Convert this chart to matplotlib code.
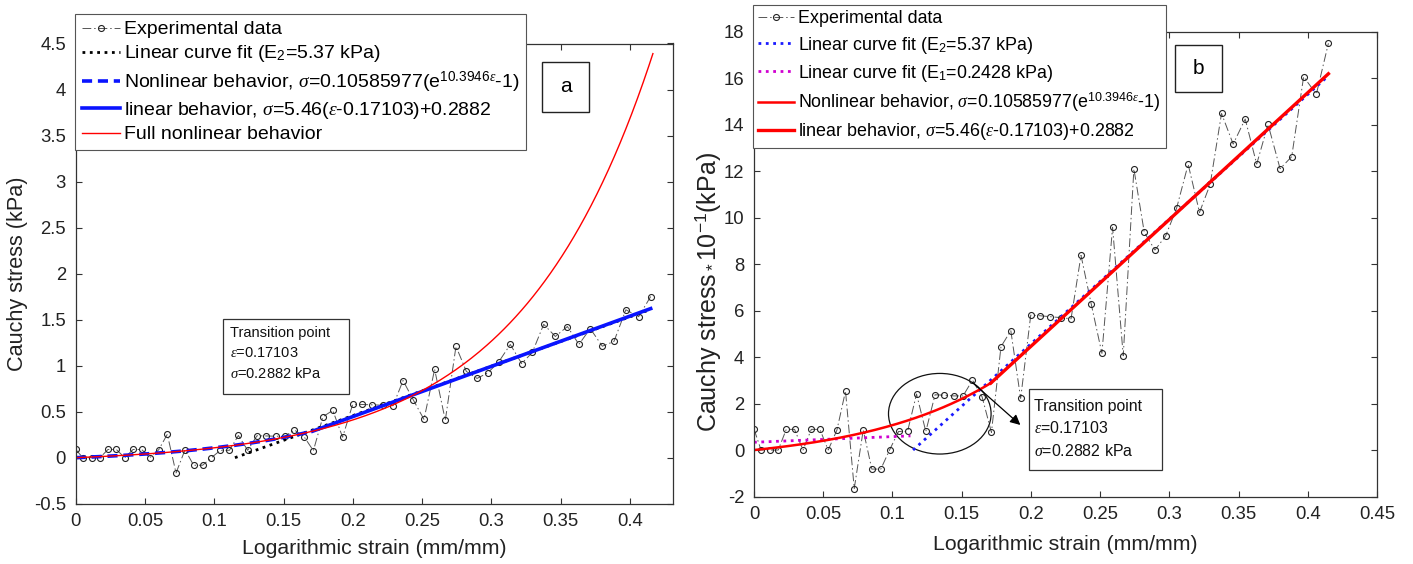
import numpy as np
import matplotlib
matplotlib.use('Agg')
import matplotlib.pyplot as plt
from matplotlib.patches import Rectangle, Ellipse


# measured stress-strain points (Cauchy stress in kPa)
strain = [0.0000, 0.0051, 0.0115, 0.0175, 0.0233, 0.0293, 0.0354, 0.0414, 0.0476, 0.0536,
          0.0599, 0.0661, 0.0724, 0.0789, 0.0851, 0.0916, 0.0979, 0.1044, 0.1109, 0.1174,
          0.1241, 0.1308, 0.1376, 0.1443, 0.1510, 0.1578, 0.1647, 0.1715, 0.1784, 0.1855,
          0.1926, 0.1999, 0.2068, 0.2141, 0.2215, 0.2290, 0.2362, 0.2436, 0.2513, 0.2590,
          0.2667, 0.2744, 0.2819, 0.2896, 0.2973, 0.3052, 0.3136, 0.3218, 0.3295, 0.3377,
          0.3461, 0.3548, 0.3631, 0.3713, 0.3800, 0.3884, 0.3970, 0.4062, 0.4149]
stress = [0.090, 0.000, 0.000, 0.000, 0.089, 0.089, 0.000, 0.089, 0.089, 0.000,
          0.086, 0.254, -0.166, 0.086, -0.082, -0.082, 0.000, 0.080, 0.080, 0.241,
          0.080, 0.238, 0.236, 0.233, 0.233, 0.301, 0.230, 0.076, 0.445, 0.514,
          0.222, 0.581, 0.578, 0.574, 0.570, 0.565, 0.838, 0.628, 0.416, 0.959,
          0.406, 1.210, 0.937, 0.861, 0.921, 1.040, 1.230, 1.023, 1.144, 1.449,
          1.317, 1.425, 1.231, 1.402, 1.211, 1.263, 1.607, 1.532, 1.751]

# fitted model parameters
eps_t, sig_t = 0.17103, 0.2882      # transition point
b_exp = 10.3946                     # exponent of nonlinear part
E_lin = 5.46                        # slope of linear part
E2, eps_E2 = 5.37, 0.1149           # linear fit of upper region
E1, sig_E1 = 0.2428, 0.0335         # linear fit of lower region
eps_E1_end = 0.113
eps_end = 0.4149
eps_full_end = 0.4165
scale_b = 10                        # panel b shows stress*10^-1

xticks_a = [0, 0.05, 0.1, 0.15, 0.2, 0.25, 0.3, 0.35, 0.4]
xlabels_a = ['0', '0.05', '0.1', '0.15', '0.2', '0.25', '0.3', '0.35', '0.4']
yticks_a = [-0.5, 0, 0.5, 1, 1.5, 2, 2.5, 3, 3.5, 4, 4.5]
ylabels_a = ['-0.5', '0', '0.5', '1', '1.5', '2', '2.5', '3', '3.5', '4', '4.5']
xticks_b = [0, 0.05, 0.1, 0.15, 0.2, 0.25, 0.3, 0.35, 0.4, 0.45]
xlabels_b = ['0', '0.05', '0.1', '0.15', '0.2', '0.25', '0.3', '0.35', '0.4', '0.45']
yticks_b = [-2, 0, 2, 4, 6, 8, 10, 12, 14, 16, 18]
ylabels_b = ['-2', '0', '2', '4', '6', '8', '10', '12', '14', '16', '18']

a_exp = sig_t / (np.exp(b_exp * eps_t) - 1)

plt.rcParams['font.family'] = ['Liberation Sans', 'DejaVu Sans']
plt.rcParams['mathtext.fontset'] = 'custom'
plt.rcParams['mathtext.rm'] = 'Liberation Sans'
plt.rcParams['mathtext.it'] = 'Liberation Serif:italic'
plt.rcParams['axes.linewidth'] = 0.9
plt.rcParams['axes.edgecolor'] = '#333333'

W, H = 1413, 564
fig = plt.figure(figsize=(W / 100, H / 100), dpi=100)


def fx(px):
    return px / W


def fy(py):
    return 1 - py / H


def style_axes(ax, xt, xl, yt, yl):
    ax.set_xticks(xt)
    ax.set_xticklabels(xl)
    ax.set_yticks(yt)
    ax.set_yticklabels(yl)
    ax.tick_params(direction='in', length=4, width=0.8, top=True, right=True,
                   labelsize=13.3, colors='#333333', labelcolor='#222222', pad=7)
    ax.set_xlabel('Logarithmic strain (mm/mm)', fontsize=15.3, color='#222222', va='center')


def box_text(x0, y0, x1, y1, lines, tx, tys, size):
    fig.add_artist(Rectangle((fx(x0), fy(y1)), fx(x1) - fx(x0), fy(y0) - fy(y1),
                             transform=fig.transFigure, fill=False, lw=0.9, ec='#333333'))
    for s, ty in zip(lines, tys):
        fig.text(fx(tx), fy(ty), s, fontsize=size, va='center', ha='left', color='#111111')


def label_box(x0, y0, x1, y1, s):
    fig.add_artist(Rectangle((fx(x0), fy(y1)), fx(x1) - fx(x0), fy(y0) - fy(y1),
                             transform=fig.transFigure, fill=False, lw=1.0, ec='#222222'))
    fig.text(fx((x0 + x1) / 2), fy((y0 + y1) / 2), s, fontsize=15, ha='center', va='center')


eps = np.array(strain)
sig = np.array(stress)
e_nl = np.linspace(0, eps_t, 200)
e_lin = np.linspace(eps_t, eps_end, 50)
e_full = np.linspace(0, eps_full_end, 300)
e_E2 = np.linspace(eps_E2, eps_end, 50)
e_E1 = np.linspace(0, eps_E1_end, 20)

data_kw = dict(color='#555555', lw=0.7, dashes=(9, 3, 1.5, 3), marker='o', ms=4.3,
               mfc='none', mec='#222222', mew=0.8)

# ---- panel a ----
ax1 = fig.add_axes([fx(75.7), fy(503.7), fx(673) - fx(75.7), fy(43.5) - fy(503.7)])
h1, = ax1.plot(eps, sig, **data_kw)
h2, = ax1.plot(e_E2, E2 * (e_E2 - eps_E2), ':', color='black', lw=2.0)
h3, = ax1.plot(e_nl, a_exp * (np.exp(b_exp * e_nl) - 1), '--', color='#0a14ff', lw=2.6,
               dashes=(2.8, 1.6))
h4, = ax1.plot(e_lin, E_lin * (e_lin - eps_t) + sig_t, '-', color='#0a14ff', lw=2.6)
h5, = ax1.plot(e_full, a_exp * (np.exp(b_exp * e_full) - 1), '-', color='red', lw=1.0)
ax1.set_xlim(0, 0.431)
ax1.set_ylim(-0.5, 4.5)
style_axes(ax1, xticks_a, xlabels_a, yticks_a, ylabels_a)
ax1.set_ylabel('Cauchy stress (kPa)', fontsize=15.6, color='#222222')
ax1.yaxis.set_label_coords(-0.08, 0.5)
ax1.xaxis.set_label_coords(0.5, -0.097)

leg1 = fig.legend([h1, h2, h3, h4, h5],
                  ['Experimental data',
                   r'Linear curve fit (E$_2$=5.37 kPa)',
                   r'Nonlinear behavior, $\sigma$=0.10585977(e$^{10.3946\epsilon}$-1)',
                   r'linear behavior, $\sigma$=5.46($\epsilon$-0.17103)+0.2882',
                   'Full nonlinear behavior'],
                  loc='upper left', bbox_to_anchor=(fx(75), fy(14)), bbox_transform=fig.transFigure,
                  fancybox=False, framealpha=1, edgecolor='#555555', fontsize=14.0,
                  borderpad=0.35, labelspacing=0.26, handlelength=1.95, handletextpad=0.2,
                  borderaxespad=0)
leg1.get_frame().set_linewidth(0.8)

label_box(542, 62, 589, 112, 'a')
box_text(223, 319, 349, 394, ['Transition point', r'$\epsilon$=0.17103', r'$\sigma$=0.2882 kPa'],
         230, [333, 353, 373], 10.5)

# ---- panel b ----
ax2 = fig.add_axes([fx(754), fy(496.5), fx(1377) - fx(754), fy(31.9) - fy(496.5)])
g1, = ax2.plot(eps, sig * scale_b, **data_kw)
g2, = ax2.plot(e_E2, scale_b * E2 * (e_E2 - eps_E2), ':', color='#1a1aff', lw=2.0)
g3, = ax2.plot(e_E1, scale_b * (E1 * e_E1 + sig_E1), ':', color='#d000d0', lw=2.0)
g4, = ax2.plot(e_nl, scale_b * a_exp * (np.exp(b_exp * e_nl) - 1), '-', color='#ff0000', lw=1.8)
g5, = ax2.plot(e_lin, scale_b * (E_lin * (e_lin - eps_t) + sig_t), '-', color='#ff0000', lw=2.4)
ax2.set_xlim(0, 0.45)
ax2.set_ylim(-2, 18)
style_axes(ax2, xticks_b, xlabels_b, yticks_b, ylabels_b)
ax2.set_ylabel(r'Cauchy stress$_*$10$^{-1}$(kPa)', fontsize=18, color='#222222')
ax2.yaxis.set_label_coords(-0.05, 0.44)
ax2.xaxis.set_label_coords(0.5, -0.104)

ax2.add_patch(Ellipse((0.1342, 1.563), 0.0741, 3.47, fill=False, lw=0.9, ec='#111111'))
ax2.annotate('', xy=(0.1939, 1.0), xytext=(0.1564, 2.98),
             arrowprops=dict(arrowstyle='-|>', color='black', lw=0.9, mutation_scale=15))

leg2 = fig.legend([g1, g2, g3, g4, g5],
                  ['Experimental data',
                   r'Linear curve fit (E$_2$=5.37 kPa)',
                   r'Linear curve fit (E$_1$=0.2428 kPa)',
                   r'Nonlinear behavior, $\sigma$=0.10585977(e$^{10.3946\epsilon}$-1)',
                   r'linear behavior, $\sigma$=5.46($\epsilon$-0.17103)+0.2882'],
                  loc='upper left', bbox_to_anchor=(fx(753), fy(5)), bbox_transform=fig.transFigure,
                  fancybox=False, framealpha=1, edgecolor='#555555', fontsize=12.9,
                  borderpad=0.3, borderaxespad=0, labelspacing=0.4, handlelength=2.0,
                  handletextpad=0.2)
leg2.get_frame().set_linewidth(0.8)

label_box(1175, 45, 1222, 92, 'b')
box_text(1029, 389, 1162, 470, ['Transition point', r'$\epsilon$=0.17103', r'$\sigma$=0.2882 kPa'],
         1034, [406, 428, 451], 11.4)

fig.savefig('out.png', dpi=100)
